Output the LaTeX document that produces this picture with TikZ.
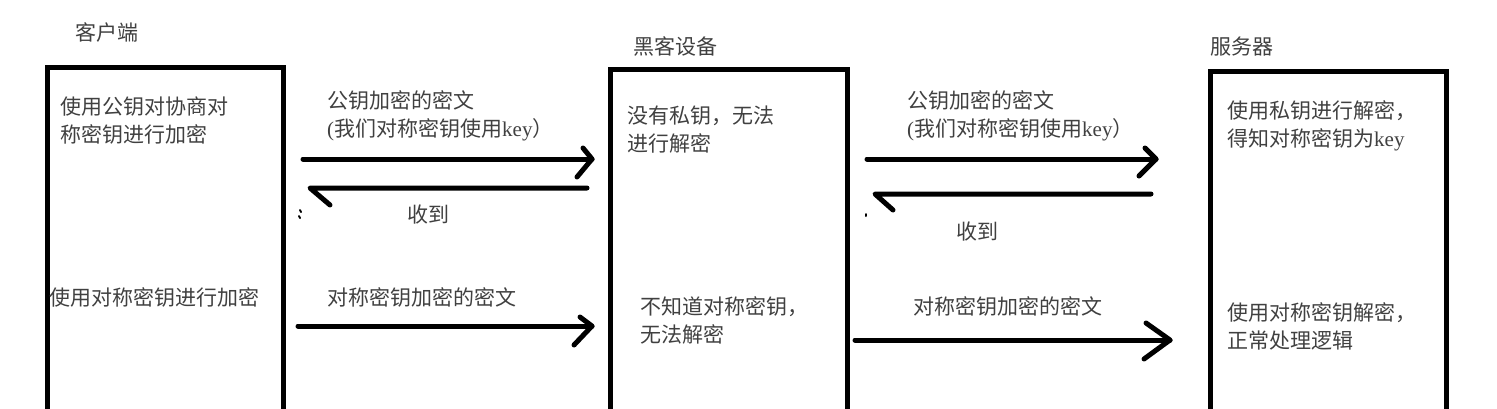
\documentclass[tikz,border=0pt]{standalone}
\usepackage{fontspec}
\setmainfont{Noto Sans CJK SC}
\newfontfamily\lat{Liberation Serif}
\begin{document}
\begin{tikzpicture}[x=1pt,y=-1pt,
  box/.style={draw=black,line width=5pt},
  lbl/.style={inner sep=0pt,text=black!75,font=\fontsize{21}{28}\selectfont,align=left},
  conn/.style={line width=5pt,line cap=round,line join=round}]
\useasboundingbox (0,0) rectangle (1497,408);
\clip (0,0) rectangle (1497,408);
% titles
\node[lbl,anchor=west] (t1) at (75,32) {客户端};
\node[lbl,anchor=west] (t2) at (633,46) {黑客设备};
\node[lbl,anchor=west] (t3) at (1210,47) {服务器};
% boxes (open at the bottom)
\draw[box] (47,430) -- (47,67) -- (283,67) -- (283,430);
\draw[box] (610,430) -- (610,69) -- (847,69) -- (847,430);
\draw[box] (1210,430) -- (1210,71) -- (1446,71) -- (1446,430);
% box texts
\node[lbl,anchor=west] (c1) at (60,121) {使用公钥对协商对\\称密钥进行加密};
\node[lbl,anchor=west] (c2) at (49,297) {使用对称密钥进行加密};
\node[lbl,anchor=west] (h1) at (627,130) {没有私钥，无法\\进行解密};
\node[lbl,anchor=west] (h2) at (640,320) {不知道对称密钥，\\无法解密};
\node[lbl,anchor=west] (s1) at (1227,126) {使用私钥进行解密，\\得知对称密钥为{\lat key}};
\node[lbl,anchor=west] (s2) at (1227,326) {使用对称密钥解密，\\正常处理逻辑};
% arrow labels
\node[lbl,anchor=west] (l1) at (327,116) {公钥加密的密文\\{\lat(}我们对称密钥使用{\lat key}）};
\node[lbl,anchor=west] (l2) at (407,215) {收到};
\node[lbl,anchor=west] (l3) at (327,297) {对称密钥加密的密文};
\node[lbl,anchor=west] (l4) at (907,116) {公钥加密的密文\\{\lat(}我们对称密钥使用{\lat key}）};
\node[lbl,anchor=west] (l5) at (956,232) {收到};
\node[lbl,anchor=west] (l6) at (913,306) {对称密钥加密的密文};
% coordinates
\coordinate (a1s) at (303,159); \coordinate (a1e) at (592,159);
\coordinate (a2s) at (587,188); \coordinate (a2e) at (310,188);
\coordinate (a3s) at (298,326); \coordinate (a3e) at (592,326);
\coordinate (b1s) at (867,159); \coordinate (b1e) at (1156,159);
\coordinate (b2s) at (1151,194); \coordinate (b2e) at (875,194);
\coordinate (b3s) at (855,340); \coordinate (b3e) at (1170,340);
% arrows
\draw[conn] (a1s) -- (a1e);
\draw[conn] (583,148) -- (a1e) -- (577,177);
\draw[conn] (a2s) -- (a2e) -- (330,205);
\draw[line width=2pt,line cap=round] (300,210) -- (301,212) (299,216) -- (300,218);
\draw[conn] (a3s) -- (a3e);
\draw[conn] (580,317) -- (a3e) -- (574,345);
\draw[conn] (b1s) -- (b1e);
\draw[conn] (1145,148) -- (b1e) -- (1139,176);
\draw[conn] (b2s) -- (b2e) -- (893,210);
\draw[line width=2pt,line cap=round] (866,214) -- (866,216);
\draw[conn] (b3s) -- (b3e);
\draw[conn] (1146,323) -- (b3e) -- (1144,359);
\end{tikzpicture}
\end{document}
